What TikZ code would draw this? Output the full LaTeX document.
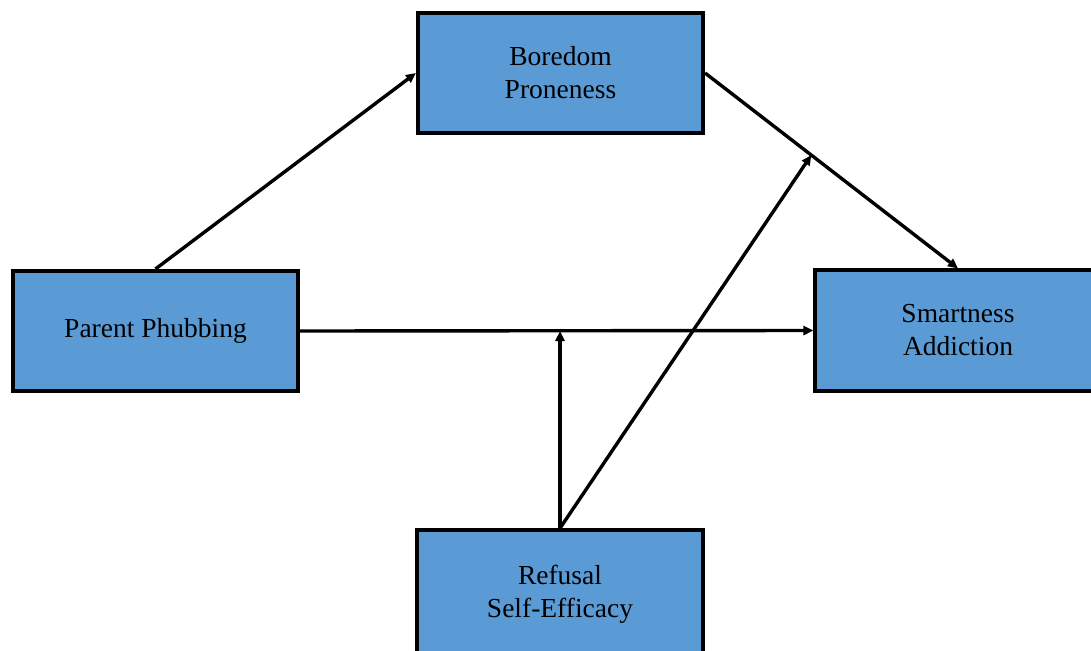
\documentclass[tikz,border=0pt]{standalone}
\usepackage{fontspec}
\setmainfont{Liberation Serif}
\usetikzlibrary{arrows.meta}
\definecolor{boxblue}{HTML}{5B9BD5}
\tikzset{
  varbox/.style={draw=black, fill=boxblue, line width=3.6pt, rectangle,
    minimum width=285.5pt, minimum height=120.5pt, align=center,
    inner sep=0pt, font=\fontsize{27.5}{33}\selectfont},
  link/.style={line width=3.4pt, -{Triangle[length=10pt,width=9pt]}}
}
\begin{document}
\begin{tikzpicture}[x=1pt,y=-1pt]
  \useasboundingbox (0,0) rectangle (1091,650);
  \begin{scope}
    \clip (0,0) rectangle (1091,650);
    \node[varbox] (bp) at (560.5,73)  {Boredom\\Proneness};
    \node[varbox] (pp) at (155.5,331) {Parent Phubbing};
    \node[varbox] (sa) at (958,330.5) {Smartness\\Addiction};
    \node[varbox, minimum height=128pt] (rs) at (560,594) {Refusal\\Self-Efficacy};
  \end{scope}
  % paths between the variables
  \draw[link] (pp.north) -- (bp.west);
  \draw[link] (bp.east) -- coordinate[pos=0.42] (mod) (sa.north);
  \draw[link] (pp.east) -- (sa.west);
  % moderation arrows from refusal self-efficacy
  \coordinate (direct) at (rs.north |- pp.east);
  \draw[link] (rs.north) -- (direct);
  \draw[link] (rs.north) -- (mod);
\end{tikzpicture}
\end{document}
